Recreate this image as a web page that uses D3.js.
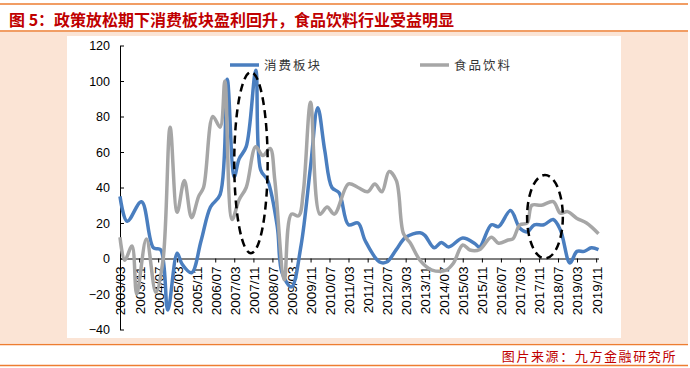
<!DOCTYPE html>
<html>
<head>
<meta charset="utf-8">
<script src="https://cdn.jsdelivr.net/npm/d3@7"></script>
<style>
  body { margin: 0; background: #fff; }
  svg text { font-family: "Liberation Sans", Arial, sans-serif; }
  .cjk { font-family: "Noto Sans CJK SC", sans-serif; }
</style>
</head>
<body>
<svg id="chart" width="690" height="368"></svg>
<script>
// 消费板块 (consumer sector) profit growth, %
const consumerDates = ["2003/03","2003/06","2003/12","2004/05","2004/08","2004/11","2005/03","2005/05","2005/09","2006/01",
  "2006/05","2006/09","2006/12","2007/03","2007/05","2007/08","2007/12","2008/02","2008/05","2008/09",
  "2008/11","2009/03","2009/07","2009/11","2010/02","2010/05","2010/08","2010/11","2011/03","2011/07",
  "2011/10","2012/04","2012/07","2012/11","2013/03","2013/09","2013/11","2014/03","2014/06","2014/09",
  "2015/03","2015/08","2015/10","2016/03","2016/06","2016/11","2017/03","2017/06","2017/09","2018/01",
  "2018/05","2018/08","2018/12","2019/03","2019/06","2019/09","2019/12"];
const consumerValues = [35, 21, 32, 6, 5, -29, 3, -3, -8, 10,
  29, 36, 101, 46, 56, 63, 106, 50, 44, 18,
  -8, -16, 7, 52, 85, 61, 40, 37, 19, 20,
  10, -2, -2, 5, 12, 14.5, 13, 6, 9, 6.5,
  11.5, 8.5, 6.5, 19, 18, 27, 17, 15, 19, 19,
  22, 16, -2.5, 4, 4, 6, 5];

// 食品饮料 (food & beverage) profit growth, %
const foodDates = ["2003/03","2003/05","2003/08","2003/10","2004/02","2004/06","2004/09","2004/12","2005/03","2005/06",
  "2005/09","2005/12","2006/02","2006/06","2006/09","2006/11","2007/02","2007/05","2007/08","2007/12",
  "2008/03","2008/06","2008/08","2008/12","2009/03","2009/06","2009/08","2009/11","2010/03","2010/06",
  "2010/09","2011/03","2011/07","2011/11","2012/02","2012/05","2012/08","2012/11","2013/02","2013/05",
  "2013/09","2014/02","2014/08","2014/11","2015/03","2015/06","2015/10","2016/03","2016/06","2016/10",
  "2016/12","2017/03","2017/06","2017/08","2017/12","2018/05","2018/08","2018/11","2019/03","2019/07",
  "2019/12"];
const foodValues = [12, -1, 7, -20, 11, -19, -1, 74, 26, 44,
  23, 35, 40, 80, 74, 100, 22, 33, 40, 63,
  58, 62, 44, -12, 25, 24, 38, 88, 25, 29,
  25, 42, 40, 37.6, 42, 37.6, 49, 44, 14, 8.6,
  -1, -6.5, -6.5, -2.7, 7.6, 4.8, 5, 12, 8.6, 10.4,
  11, 19, 20, 30, 30, 32, 25.5, 26.4, 22.6, 20,
  14];

const seriesNames = ["消费板块", "食品饮料"];
const xTickLabels = ["2003/03","2003/11","2004/07","2005/03","2005/11","2006/07","2007/03","2007/11","2008/07",
  "2009/03","2009/11","2010/07","2011/03","2011/11","2012/07","2013/03","2013/11","2014/07","2015/03",
  "2015/11","2016/07","2017/03","2017/11","2018/07","2019/03","2019/11"];
const yTicks = [-40, -20, 0, 20, 40, 60, 80, 100, 120];

// dashed ellipses highlighting the two easing periods
const highlightFrom = ["2007/03", "2017/06"];
const highlightTo = ["2008/05", "2018/09"];
const highlightTop = [105, 47];
const highlightBottom = [3, 0];

const titleText = "图 5：政策放松期下消费板块盈利回升，食品饮料行业受益明显";
const sourceText = "图片来源：九方金融研究所";

const parse = d3.timeParse("%Y/%m");
const svg = d3.select("#chart");

const orange = "#ed7d31", peach = "#fbe4d5", red = "#c00000";

// frame
svg.append("rect").attr("x", 0).attr("y", 32).attr("width", 688).attr("height", 311).attr("fill", peach);
svg.append("rect").attr("x", 67).attr("y", 36).attr("width", 554).attr("height", 302).attr("fill", "#fff");
[4, 31, 344.5, 365.5].forEach(y => {
  svg.append("line").attr("x1", 0).attr("x2", 688).attr("y1", y).attr("y2", y)
    .attr("stroke", orange).attr("stroke-width", 1.5);
});

svg.append("text").attr("class", "cjk")
  .attr("x", 9).attr("y", 26)
  .attr("fill", red).attr("font-size", 16).attr("font-weight", "bold")
  .text(titleText);

svg.append("text").attr("class", "cjk")
  .attr("x", 677).attr("y", 361).attr("text-anchor", "end")
  .attr("fill", red).attr("font-size", 13).attr("letter-spacing", 1.6)
  .text(sourceText);

// scales
const x = d3.scaleTime()
  .domain([parse("2003/03"), parse("2019/12")])
  .range([120, 598.5]);
const y = d3.scaleLinear().domain([-40, 120]).range([329.5, 45.5]);

// axes
const yAxis = svg.append("g")
  .attr("transform", "translate(120,0)")
  .call(d3.axisLeft(y).tickValues(yTicks).tickSize(-4).tickSizeOuter(0).tickPadding(10));
yAxis.selectAll("text").attr("font-size", 12.5).attr("fill", "#000");

const xAxis = svg.append("g")
  .attr("transform", `translate(0,${y(0)})`)
  .call(d3.axisBottom(x).tickValues(xTickLabels.map(parse))
    .tickFormat(d3.timeFormat("%Y/%m")).tickSize(4).tickSizeOuter(0));
xAxis.selectAll("text")
  .attr("transform", "rotate(-90)")
  .attr("text-anchor", "end")
  .attr("x", -8).attr("y", 0).attr("dy", "0.36em")
  .attr("font-size", 13.5).attr("fill", "#000");

svg.selectAll(".domain, .tick line").attr("stroke", "#000").attr("stroke-width", 1);

// lines
const line = d3.line()
  .x(d => x(d[0])).y(d => y(d[1]))
  .curve(d3.curveCatmullRom.alpha(0.5));

const series = [
  { dates: consumerDates, values: consumerValues, color: "#4a7ebf" },
  { dates: foodDates, values: foodValues, color: "#a6a6a6" }
];

series.forEach(s => {
  svg.append("path")
    .datum(s.dates.map((d, i) => [parse(d), s.values[i]]))
    .attr("fill", "none")
    .attr("stroke", s.color)
    .attr("stroke-width", 3.5)
    .attr("stroke-linejoin", "round")
    .attr("d", line);
});

// highlight ellipses
highlightFrom.forEach((d, i) => {
  const x0 = x(parse(d)), x1 = x(parse(highlightTo[i]));
  const y0 = y(highlightTop[i]), y1 = y(highlightBottom[i]);
  svg.append("ellipse")
    .attr("cx", (x0 + x1) / 2).attr("cy", (y0 + y1) / 2)
    .attr("rx", (x1 - x0) / 2).attr("ry", (y1 - y0) / 2)
    .attr("fill", "none").attr("stroke", "#000")
    .attr("stroke-width", 2.5).attr("stroke-dasharray", "8,5");
});

// legend
const legendX = [230, 420];
series.forEach((s, i) => {
  svg.append("line")
    .attr("x1", legendX[i]).attr("x2", legendX[i] + 29)
    .attr("y1", 65).attr("y2", 65)
    .attr("stroke", s.color).attr("stroke-width", 3.5);
  svg.append("text").attr("class", "cjk")
    .attr("x", legendX[i] + 34).attr("y", 69.5)
    .attr("font-size", 12.5).attr("letter-spacing", 2)
    .attr("fill", "#333")
    .text(seriesNames[i]);
});
</script>
</body>
</html>
